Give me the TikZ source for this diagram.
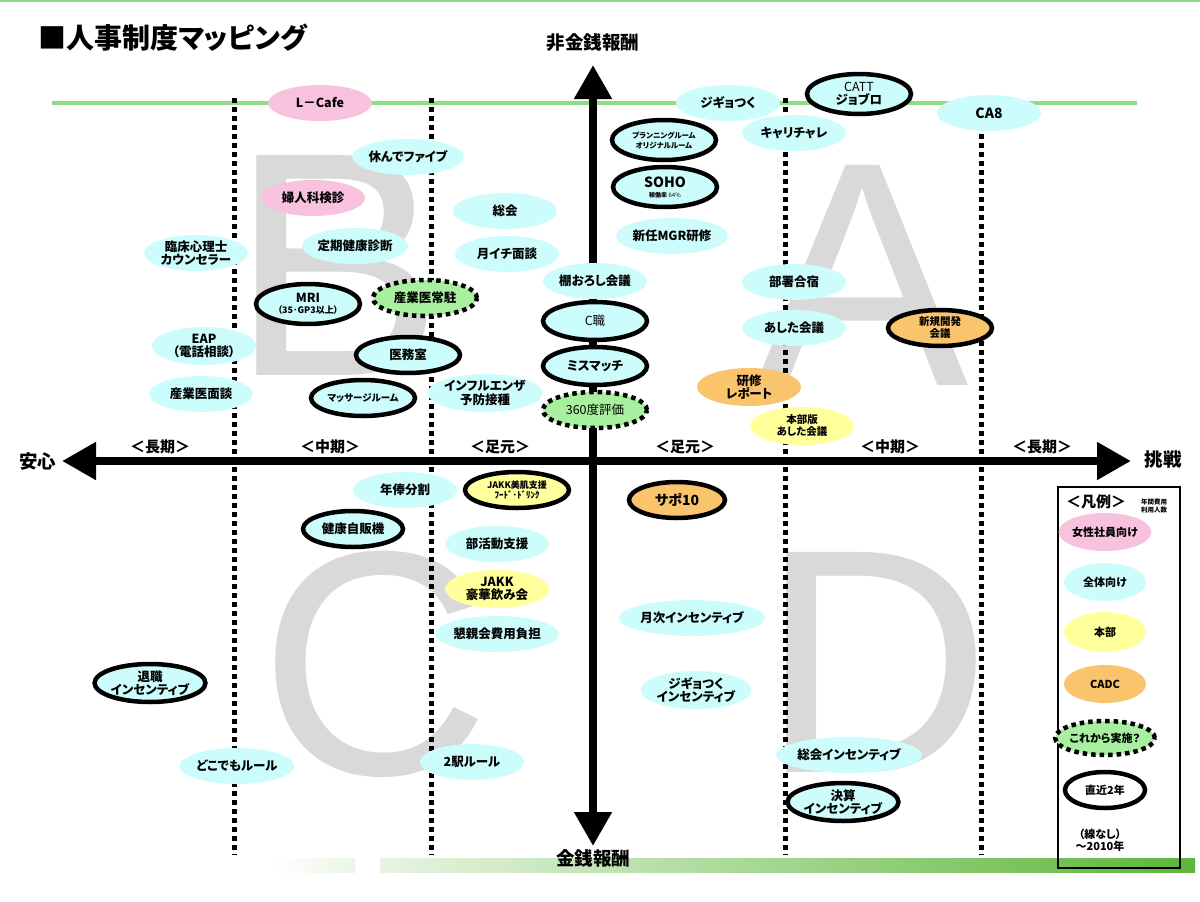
\documentclass[tikz,border=0pt]{standalone}
\usepackage{fontspec}
\setmainfont{Noto Sans CJK JP}[RawFeature=+palt]
\newfontfamily\letterfont{Liberation Sans}
\usetikzlibrary{shapes.geometric,arrows.meta,positioning}

\definecolor{zentaicol}{HTML}{CCFCFC}
\definecolor{joseicol}{HTML}{F8C2DE}
\definecolor{honbucol}{HTML}{FFFF9C}
\definecolor{cadccol}{HTML}{F9C46C}
\definecolor{korecol}{HTML}{A8F0A0}
\definecolor{senkol}{HTML}{8EDC86}
\definecolor{obikol}{HTML}{5DB63A}
\definecolor{mojigray}{HTML}{D9D9D9}

\begin{document}
\begin{tikzpicture}[x=1pt,y=-1pt,
  ell/.style={ellipse,minimum width=104pt,minimum height=36pt,inner sep=0pt,align=center,
    font=\bfseries\fontsize{12.5}{13.5}\selectfont},
  zentai/.style={ell,fill=zentaicol},
  josei/.style={ell,fill=joseicol},
  honbu/.style={ell,fill=honbucol},
  cadc/.style={ell,fill=cadccol},
  korekara/.style={ell,fill=korecol,draw=black,line width=4.5pt,dash pattern=on 4.5pt off 4pt},
  chokkin/.style={draw=black,line width=4.5pt},
  kikan/.style={font=\bfseries\fontsize{15}{16}\selectfont},
  jikulbl/.style={font=\bfseries\fontsize{18.5}{19}\selectfont},
  jiku/.style={line width=8pt,{Triangle[length=34pt,width=36pt]}-{Triangle[length=34pt,width=36pt]}},
  moji/.style={inner sep=0pt,text=mojigray,font=\letterfont\fontsize{320}{320}\selectfont}]
\useasboundingbox (0,0) rectangle (1200,902);

% big letters in the back
\node[moji] (mojiB) at (337,265) {B};
\node[moji] (mojiA) at (862,275) {A};
\node[moji] (mojiC) at (375,664) {C};
\node[moji] (mojiD) at (876,662) {D};

% lines
\draw[senkol,line width=2pt] (0,1) -- (1200,1);
\draw[senkol,line width=4pt] (52,103) -- (1137,103);
\foreach \x in {234,431,785,981}
  \draw[line width=5pt,dash pattern=on 5pt off 4pt] (\x,98) -- (\x,855);
\shade[left color=white,right color=obikol!12] (270,858) rectangle (355,872);
\shade[left color=obikol!15,right color=obikol] (380,858) rectangle (1195,872);

\node[font=\bfseries\fontsize{28}{30}\selectfont,anchor=west] (title) at (35,38) {■人事制度マッピング};

% axes
\coordinate (hikinsen) at (593,65);
\coordinate (kinsen) at (593,846);
\coordinate (anshin) at (62,461);
\coordinate (chosen) at (1131,461);
\draw[jiku] (kinsen) -- (hikinsen);
\draw[jiku] (anshin) -- (chosen);
\node[jikulbl] (hikinsenlbl) at (593,43) {非金銭報酬};
\node[jikulbl] (kinsenlbl) at (593,858) {金銭報酬};
\node[jikulbl] (anshinlbl) at (38,461) {安心};
\node[jikulbl] (chosenlbl) at (1163,459) {挑戦};
\foreach \x/\t [count=\i] in {160/長期,330/中期,500/足元,685/足元,890/中期,1042/長期}
  \node[kikan] (kikan\i) at (\x,447) {＜\t＞};

% upper left
\node[josei] (lcafe) at (320,103) {L－Cafe};
\node[zentai] (yasunde) at (408,157) {休んでファイブ};
\node[josei] (fujinka) at (313,198) {婦人科検診};
\node[zentai] (sokai) at (505,211) {総会};
\node[zentai] (teiki) at (355,246) {定期健康診断};
\node[zentai] (tsukiichi) at (507,254) {月イチ面談};
\node[zentai] (rinsho) at (196,253) {臨床心理士\\カウンセラー};
\node[zentai,chokkin,minimum height=40pt] (mri) at (308,304) {MRI\\[-3pt]{\fontsize{9}{10}\selectfont（35･GP3以上）}};
\node[korekara] (sangyoi) at (425,298) {産業医常駐};
\node[zentai,minimum height=38pt] (eap) at (204,346) {EAP\\（電話相談）};
\node[zentai,chokkin] (imushitsu) at (408,355) {医務室};
\node[zentai] (sangyomen) at (201,394) {産業医面談};
\node[zentai,chokkin,font=\bfseries\fontsize{9.5}{10}\selectfont] (massage) at (363,398) {マッサージルーム};
\node[zentai,minimum height=38pt] (influ) at (485,393) {インフルエンザ\\予防接種};

% along the vertical axis
\node[zentai] (tanaoroshi) at (595,281) {棚おろし会議};
\node[zentai,chokkin,minimum height=38pt,font=\fontsize{12.5}{13.5}\selectfont] (cshoku) at (595,321) {C職};
\node[zentai,chokkin,minimum height=38pt] (mismatch) at (595,366) {ミスマッチ};
\node[korekara,font=\fontsize{12.5}{13.5}\selectfont] (hyoka) at (595,410) {360度評価};

% upper right
\node[zentai,chokkin,minimum height=40pt,font=\bfseries\fontsize{7.5}{10}\selectfont] (planning) at (664,140) {プランニングルーム\\オリジナルルーム};
\node[zentai,chokkin,minimum height=40pt,font=\bfseries\fontsize{14}{15}\selectfont] (soho) at (665,187) {SOHO\\[-5pt]{\fontsize{6}{6}\selectfont 稼働率\ \mdseries 64\%}};
\node[zentai] (shinnin) at (672,236) {新任MGR研修};
\node[zentai] (jigyotsuku) at (728,103) {ジギョつく};
\node[zentai] (carichalle) at (794,133) {キャリチャレ};
\node[zentai,chokkin,minimum height=40pt] (catt) at (859,94) {{\mdseries CATT}\\ジョブロ};
\node[zentai,font=\bfseries\fontsize{14}{15}\selectfont] (ca8) at (989,113) {CA8};
\node[zentai] (gasshuku) at (794,282) {部署合宿};
\node[zentai] (ashita) at (794,328) {あした会議};
\node[cadc,chokkin,font=\bfseries\fontsize{10.5}{12}\selectfont] (shinki) at (940,328) {新規開発\\会議};
\node[cadc,minimum height=38pt] (kenshu) at (749,387) {研修\\レポート};
\node[honbu,minimum height=38pt,font=\bfseries\fontsize{10.5}{12}\selectfont] (honbuban) at (802,426) {本部版\\あした会議};

% lower half
\node[zentai] (nenpo) at (405,490) {年俸分割};
\node[honbu,chokkin,font=\bfseries\fontsize{9}{10}\selectfont] (bihada) at (517,490) {JAKK美肌支援\\ﾌｰﾄﾞ･ﾄﾞﾘﾝｸ};
\node[cadc,chokkin,font=\bfseries\fontsize{14}{15}\selectfont,minimum width=96pt] (sapo) at (677,500) {サポ10};
\node[zentai,chokkin,minimum width=100pt] (jihanki) at (353,529) {健康自販機};
\node[zentai] (bukatsu) at (497,544) {部活動支援};
\node[honbu,minimum height=38pt] (nomikai) at (497,589) {JAKK\\豪華飲み会};
\node[zentai] (konshin) at (497,634) {懇親会費用負担};
\node[zentai] (getsuji) at (692,618) {月次インセンティブ};
\node[zentai,chokkin,minimum height=38pt] (taishoku) at (150,683) {退職\\インセンティブ};
\node[zentai,minimum height=38pt] (jigyoin) at (696,690) {ジギョつく\\インセンティブ};
\node[zentai,minimum width=100pt] (dokodemo) at (237,766) {どこでもルール};
\node[zentai] (nieki) at (472,762) {2駅ルール};
\node[zentai] (sokaiin) at (849,755) {総会インセンティブ};
\node[zentai,chokkin,minimum height=38pt,minimum width=100pt] (kessan) at (843,802) {決算\\インセンティブ};

% legend
\draw[line width=1.5pt] (1058,487) rectangle (1180,868);
\node[kikan] (hanrei) at (1096,502) {＜凡例＞};
\node[font=\bfseries\fontsize{6.5}{8}\selectfont,align=center] (hiyo) at (1154,506) {年間費用\\利用人数};
\node[josei,minimum width=82pt,minimum height=38pt,font=\bfseries\fontsize{11}{12}\selectfont] (lgjosei) at (1105,532) {女性社員向け};
\node[zentai,minimum width=82pt,minimum height=38pt,font=\bfseries\fontsize{11}{12}\selectfont] (lgzentai) at (1105,582) {全体向け};
\node[honbu,minimum width=82pt,minimum height=40pt,font=\bfseries\fontsize{11}{12}\selectfont] (lghonbu) at (1105,632) {本部};
\node[cadc,minimum width=82pt,minimum height=38pt,font=\bfseries\fontsize{11}{12}\selectfont] (lgcadc) at (1105,684) {CADC};
\node[korekara,minimum width=80pt,minimum height=34pt,font=\bfseries\fontsize{11}{12}\selectfont] (lgkore) at (1105,738) {これから実施？};
\node[ell,chokkin,fill=white,minimum width=80pt,font=\bfseries\fontsize{11}{12}\selectfont] (lgchokkin) at (1105,790) {直近2年};
\node[font=\bfseries\fontsize{11}{12}\selectfont,align=center] (sennashi) at (1100,840) {（線なし）\\～2010年};
\end{tikzpicture}
\end{document}
